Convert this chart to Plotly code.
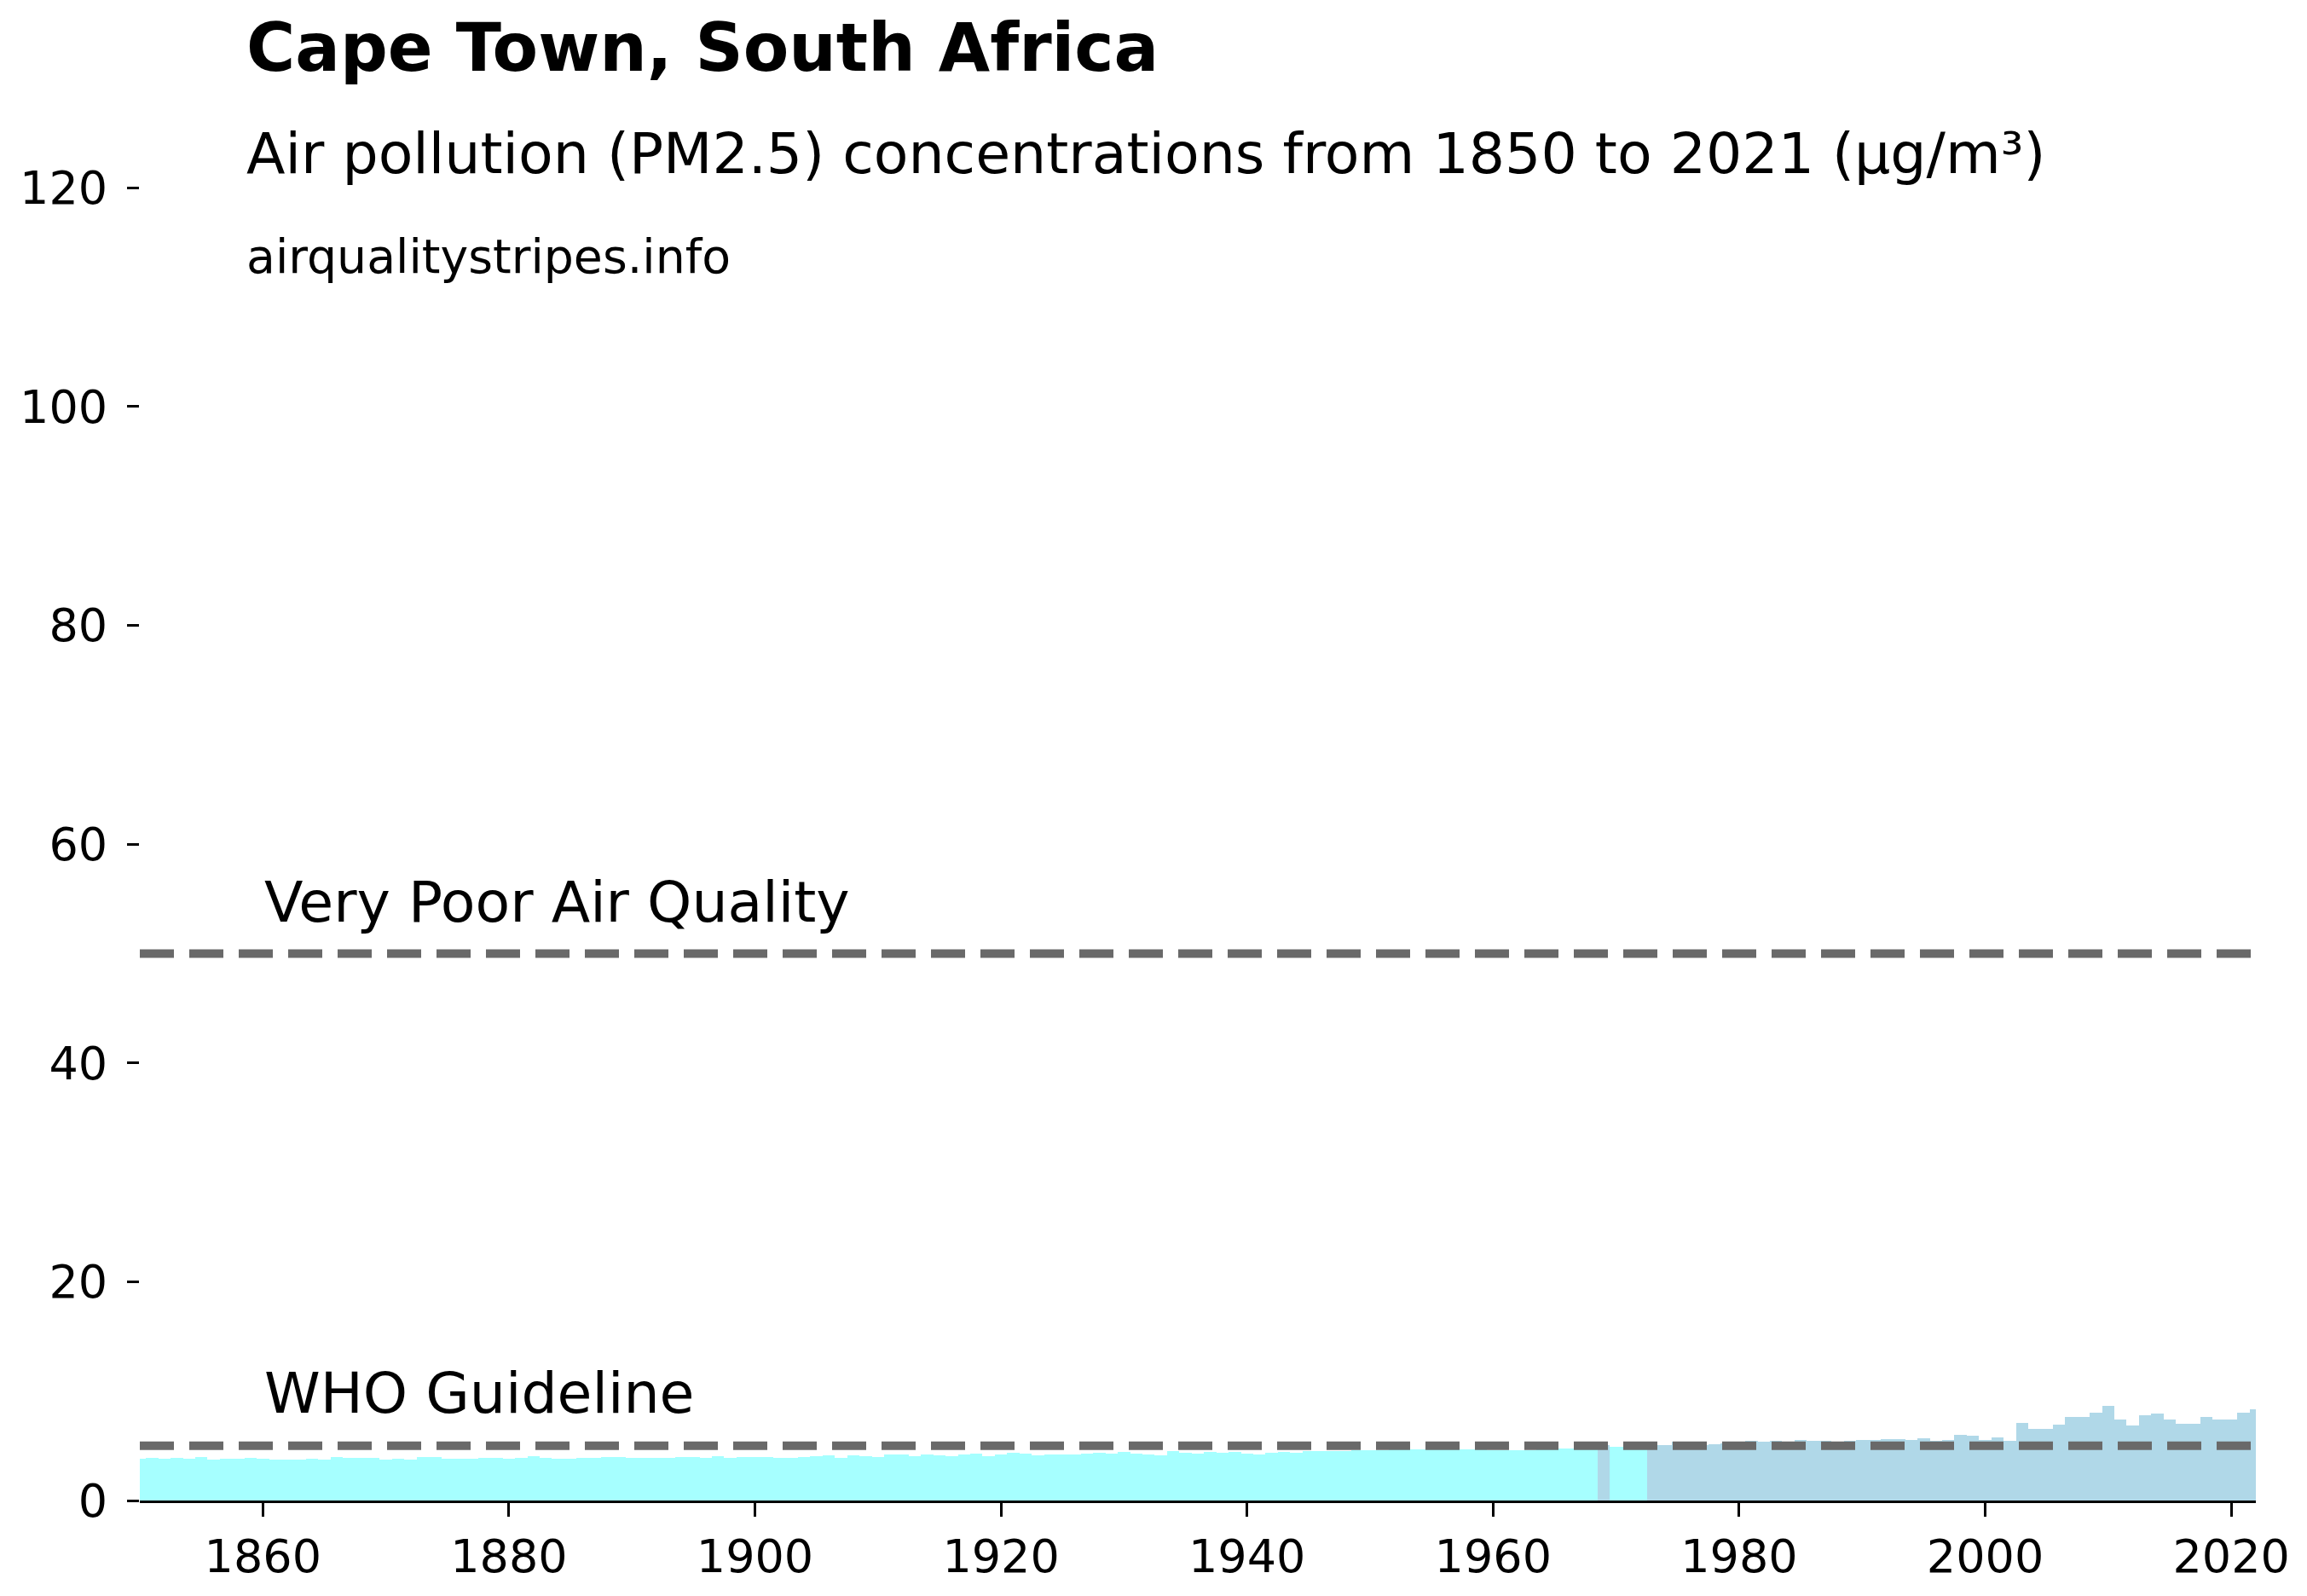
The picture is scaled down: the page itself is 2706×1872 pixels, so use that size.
import plotly.graph_objects as go

# ---- data ----
years = list(range(1850, 2023))
pm25 = [
    3.83, 3.91, 3.83, 3.91, 3.83, 3.99, 3.75, 3.83, 3.83, 3.91,  # 1850-1859
    3.83, 3.75, 3.75, 3.75, 3.83, 3.75, 3.99, 3.91, 3.91, 3.91,  # 1860-1869
    3.75, 3.83, 3.75, 3.99, 3.99, 3.83, 3.83, 3.83, 3.91, 3.91,  # 1870-1879
    3.83, 3.91, 4.07, 3.91, 3.83, 3.83, 3.91, 3.91, 3.99, 3.99,  # 1880-1889
    3.91, 3.91, 3.91, 3.91, 3.99, 3.99, 3.91, 4.07, 3.91, 3.99,  # 1890-1899
    3.99, 3.99, 3.91, 3.91, 3.99, 4.07, 4.15, 3.91, 4.15, 4.07,  # 1900-1909
    3.99, 4.23, 4.23, 4.07, 4.23, 4.15, 4.07, 4.23, 4.31, 4.07,  # 1910-1919
    4.23, 4.39, 4.31, 4.15, 4.23, 4.23, 4.23, 4.31, 4.39, 4.31,  # 1920-1929
    4.47, 4.31, 4.23, 4.15, 4.52, 4.39, 4.31, 4.47, 4.39, 4.47,  # 1930-1939
    4.31, 4.23, 4.39, 4.47, 4.39, 4.49, 4.49, 4.49, 4.49, 4.57,  # 1940-1949
    4.57, 4.57, 4.68, 4.68, 4.68, 4.68, 4.71, 4.68, 4.68, 4.68,  # 1950-1959
    4.60, 4.63, 4.63, 4.63, 4.79, 4.79, 4.79, 4.79, 4.97, 5.05,  # 1960-1969
    4.89, 4.92, 4.98, 5.05, 5.10, 5.35, 5.04, 5.10, 5.15, 5.20,  # 1970-1979
    5.28, 5.44, 5.38, 5.44, 5.28, 5.52, 5.44, 5.44, 5.28, 5.44,  # 1980-1989
    5.52, 5.52, 5.60, 5.60, 5.52, 5.68, 5.44, 5.52, 6.00, 5.92,  # 1990-1999
    5.52, 5.76, 5.44, 7.12, 6.56, 6.56, 6.96, 7.60, 7.60, 8.00,  # 2000-2009
    8.64, 7.44, 6.88, 7.76, 7.92, 7.44, 7.04, 7.04, 7.60, 7.44,  # 2010-2019
    7.44, 8.00, 8.32,                                            # 2020-2022
]
who_guideline = 5
very_poor = 50
x_ticks = [1860, 1880, 1900, 1920, 1940, 1960, 1980, 2000, 2020]
y_ticks = [0, 20, 40, 60, 80, 100, 120]

title_text = "Cape Town, South Africa"
subtitle_text = "Air pollution (PM2.5) concentrations from 1850 to 2021 (µg/m³)"
source_text = "airqualitystripes.info"

# ---- styling ----
LOW_COLOR = "#A6FFFF"
HIGH_COLOR = "#B0D8E8"
LINE_COLOR = "#696969"
FONT = "DejaVu Sans"

colors = [LOW_COLOR if v < who_guideline else HIGH_COLOR for v in pm25]

fig = go.Figure(
    go.Bar(
        x=years,
        y=pm25,
        width=1,
        marker=dict(color=colors, line=dict(width=0)),
        hoverinfo="x+y",
    )
)

for level in (who_guideline, very_poor):
    fig.add_shape(
        type="line", xref="paper", x0=0, x1=1, yref="y", y0=level, y1=level,
        line=dict(color=LINE_COLOR, width=10, dash="40px,18px"), layer="above",
    )

fig.add_annotation(x=1860, y=very_poor, xref="x", yref="y", text="Very Poor Air Quality",
                   showarrow=False, xanchor="left", yanchor="middle", yshift=60,
                   font=dict(family=FONT, size=66.5, color="black"))
fig.add_annotation(x=1860, y=who_guideline, xref="x", yref="y", text="WHO Guideline",
                   showarrow=False, xanchor="left", yanchor="middle", yshift=62,
                   font=dict(family=FONT, size=66.5, color="black"))

fig.add_annotation(x=0.0494, y=1.0625, xref="paper", yref="paper", text="<b>" + title_text + "</b>",
                   showarrow=False, xanchor="left", yanchor="middle",
                   font=dict(family=FONT, size=78, color="black"))
fig.add_annotation(x=0.0494, y=0.985, xref="paper", yref="paper", text=subtitle_text,
                   showarrow=False, xanchor="left", yanchor="middle",
                   font=dict(family=FONT, size=66.5, color="black"))
fig.add_annotation(x=0.0494, y=0.9097, xref="paper", yref="paper", text=source_text,
                   showarrow=False, xanchor="left", yanchor="middle",
                   font=dict(family=FONT, size=55.3, color="black"))

fig.update_layout(
    width=2706, height=1872,
    margin=dict(l=156, r=68, t=148, b=120, pad=0),
    paper_bgcolor="white", plot_bgcolor="white",
    bargap=0, showlegend=False,
    font=dict(family=FONT, color="black"),
    xaxis=dict(
        range=[1850, 2022], tickmode="array", tickvals=x_ticks,
        ticks="outside", ticklen=16, tickwidth=3.3, tickcolor="black",
        showline=True, linecolor="black", linewidth=2.5,
        showgrid=False, zeroline=False,
        tickfont=dict(family=FONT, size=54, color="black"),
    ),
    yaxis=dict(
        range=[0, 125], tickmode="array", tickvals=y_ticks,
        ticks="outside", ticklen=14, tickwidth=3.3, tickcolor="black",
        ticklabelstandoff=12,
        showline=False, showgrid=False, zeroline=False,
        tickfont=dict(family=FONT, size=54, color="black"),
    ),
)

fig.write_html("out.html")
